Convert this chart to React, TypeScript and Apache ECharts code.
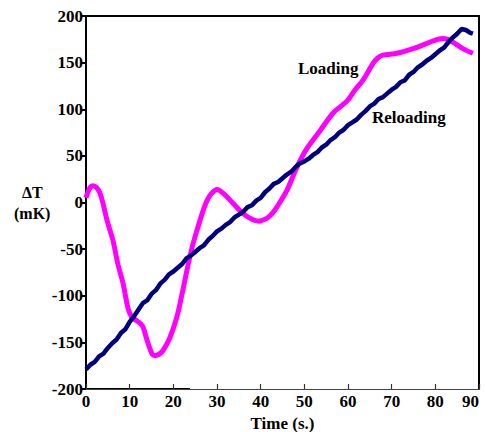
import React, { useEffect, useRef } from "react";
import * as echarts from "echarts";

const loadingX = [0, 0.8, 1.6, 2.4, 3.2, 4, 4.8, 5.5, 6.2, 7.3, 8.5, 9.6, 10.5, 11.7, 12.5, 13.1, 14, 15.1, 15.8, 16.6, 17.6, 19.2, 20.8, 22, 23.1, 24.3, 25.4, 26.8, 27.7, 28.6, 30, 31.4, 33.7, 36, 38, 39.5, 41.4, 42.6, 43.7, 46, 48.3, 50.6, 53.6, 56.6, 59.8, 61.5, 63.4, 65.7, 66.8, 68, 71.2, 74.9, 78.8, 80.5, 81.7, 82.8, 84, 86.3, 88.6];
const loadingY = [5, 15, 18, 16, 10, -3, -19, -30, -41, -66, -87, -113, -123, -127, -130, -134, -148, -162, -164, -163, -159, -145, -123, -98, -73, -48, -30, -9, 2, 9, 14, 10, -1, -12, -18, -20, -17, -12, -5, 13, 38, 58, 77, 96, 109, 120, 131, 149, 155, 158, 160, 165, 172, 175, 176, 175, 172, 165, 160];

const reloadingX = [0, 1, 2, 3, 4, 5, 6, 7, 8, 9, 10, 11, 12, 13, 14, 15, 16, 17, 18, 19, 20, 21, 22, 23, 24, 25, 26, 27, 28, 29, 30, 31, 32, 33, 34, 35, 36, 37, 38, 39, 40, 41, 42, 43, 44, 45, 46, 47, 48, 49, 50, 51, 52, 53, 54, 55, 56, 57, 58, 59, 60, 61, 62, 63, 64, 65, 66, 67, 68, 69, 70, 71, 72, 73, 74, 75, 76, 77, 78, 79, 80, 81, 82, 83, 84, 85, 86, 87, 88, 88.6];
const reloadingY = [-179, -174, -171, -165, -162, -156, -151, -147, -140, -136, -128, -122, -115, -108, -105, -98, -94, -87, -83, -77, -74, -70, -66, -60, -57, -53, -49, -46, -40, -36, -31, -28, -24, -21, -16, -13, -10, -5, -3, 2, 5, 11, 15, 20, 22, 26, 30, 33, 38, 42, 44, 47, 51, 54, 59, 62, 67, 70, 75, 78, 83, 86, 89, 94, 98, 103, 106, 111, 113, 117, 121, 124, 129, 131, 137, 140, 145, 148, 152, 155, 159, 163, 166, 172, 177, 181, 186, 185, 182, 181];

const xTicks = { min: 0, max: 90, interval: 10 };
const yTicks = { min: -200, max: 200, interval: 50 };

const serif = "'Liberation Serif', 'DejaVu Serif', serif";

export default function App() {
  const ref = useRef<HTMLDivElement>(null);
  useEffect(() => {
    if (!ref.current) return;
    const chart = echarts.init(ref.current, undefined, { renderer: "svg" });
    const label = { color: "#000", fontFamily: serif, fontWeight: "bold" as const, fontSize: 17 };
    chart.setOption({
      animation: false,
      backgroundColor: "#fff",
      grid: { left: 86, right: 6, top: 16, bottom: 43, containLabel: false, outerBoundsMode: "none" },
      xAxis: [
        {
          type: "value",
          ...xTicks,
          position: "bottom",
          axisLine: { show: true, onZero: false, lineStyle: { color: "#444", width: 1.2 } },
          axisTick: { show: true, inside: true, length: 5, lineStyle: { color: "#333", width: 1.2 } },
          axisLabel: { ...label, margin: 4, alignMaxLabel: "right" },
          splitLine: { show: false },
          name: "Time (s.)",
          nameLocation: "middle",
          nameGap: 22,
          nameTextStyle: { ...label },
        },
        {
          type: "value",
          ...xTicks,
          position: "top",
          axisLine: { show: true, onZero: false, lineStyle: { color: "#000", width: 2 } },
          axisTick: { show: false },
          axisLabel: { show: false },
          splitLine: { show: false },
        },
      ],
      yAxis: [
        {
          type: "value",
          ...yTicks,
          position: "left",
          axisLine: { show: true, onZero: false, lineStyle: { color: "#000", width: 2 } },
          axisTick: { show: true, length: 5, lineStyle: { color: "#000", width: 2 } },
          axisLabel: { ...label, margin: 3 },
          splitLine: { show: false },
        },
        {
          type: "value",
          ...yTicks,
          position: "right",
          axisLine: { show: true, onZero: false, lineStyle: { color: "#000", width: 2 } },
          axisTick: { show: false },
          axisLabel: { show: false },
          splitLine: { show: false },
        },
      ],
      graphic: [
        { type: "line", shape: { x1: 86, y1: 389, x2: 190, y2: 389 }, style: { stroke: "#000", lineWidth: 2.2 } },
        { type: "text", left: 22, top: 184, style: { text: "ΔT", fill: "#000", font: `bold 16px ${serif}` } },
        { type: "text", left: 14, top: 205, style: { text: "(mK)", fill: "#000", font: `bold 16px ${serif}` } },
        { type: "text", left: 298, top: 60, style: { text: "Loading", fill: "#000", font: `bold 17px ${serif}` } },
        { type: "text", left: 372, top: 109, style: { text: "Reloading", fill: "#000", font: `bold 17px ${serif}` } },
      ],
      series: [
        {
          name: "Loading",
          type: "line",
          data: loadingX.map((x, i) => [x, loadingY[i]]),
          showSymbol: false,
          smooth: 0.3,
          lineStyle: { color: "#ff00ff", width: 5 },
          z: 2,
        },
        {
          name: "Reloading",
          type: "line",
          data: reloadingX.map((x, i) => [x, reloadingY[i]]),
          showSymbol: false,
          lineStyle: { color: "#000080", width: 4.5 },
          z: 3,
        },
      ],
    });
    return () => chart.dispose();
  }, []);
  return <div ref={ref} style={{ position: "fixed", left: 0, top: 0, width: 485, height: 432 }} />;
}
